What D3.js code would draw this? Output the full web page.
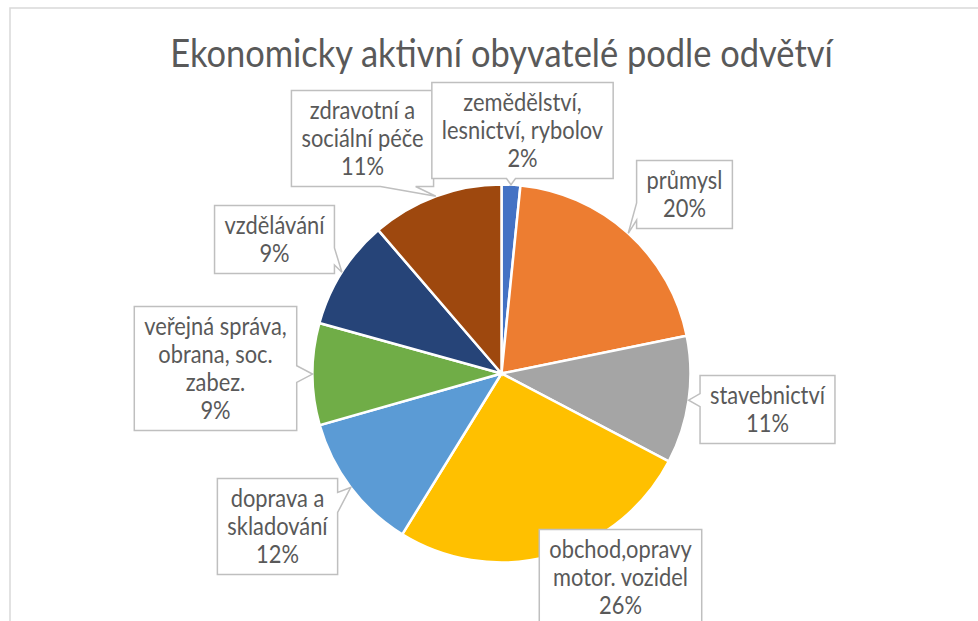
<!DOCTYPE html>
<html>
<head>
<meta charset="utf-8">
<script src="https://cdn.jsdelivr.net/npm/d3@7"></script>
<style>
  body { margin: 0; background: #fff; }
  text { font-family: Lato, "Open Sans", sans-serif; fill: #595959; }
</style>
</head>
<body>
<svg id="chart"></svg>
<script>
(function(){

// data
var title = "Ekonomicky aktivní obyvatelé podle odvětví";
var categories = [
  "zemědělství, lesnictví, rybolov", "průmysl", "stavebnictví",
  "obchod,opravy motor. vozidel", "doprava a skladování",
  "veřejná správa, obrana, soc. zabez.", "vzdělávání", "zdravotní a sociální péče"
];
// how Excel wrapped each label
var categoryLines = [
  ["zemědělství,", "lesnictví, rybolov"], ["průmysl"], ["stavebnictví"],
  ["obchod,opravy", "motor. vozidel"], ["doprava a", "skladování"],
  ["veřejná správa,", "obrana, soc.", "zabez."], ["vzdělávání"], ["zdravotní a", "sociální péče"]
];
var values = [1.6, 20.2, 10.9, 26.1, 11.8, 8.7, 9.4, 11.3];
var colors = ["#4472C4", "#ED7D31", "#A5A5A5", "#FFC000", "#5B9BD5", "#70AD47", "#264478", "#9E480E"];

// layout: label box centres, offset from the pie centre
var labelOffsets = [[21, -243], [183, -179], [266, 36], [119, 204], [-224, 153], [-286, -5], [-227, -134], [-139, -235]];

var W = 978, H = 621;
var cx = 501.5, cy = 373.5, radius = 189;
var lineH = 28, padX = 10, padV = 6;
var squeeze = 0.88; // horizontal squeeze so Lato sits closer to Calibri's narrow build

var svg = d3.select("#chart").attr("width", W).attr("height", H);

// chart area frame (runs off the right and bottom of the picture)
svg.append("rect")
  .attr("x", 10).attr("y", 8)
  .attr("width", 1000).attr("height", 700)
  .style("fill", "#fff")
  .style("stroke", "#d9d9d9")
  .style("stroke-width", 1.5);

// font size that gives a sample string the wanted width once squeezed
function fitSize(str, wanted, weight) {
  var t = svg.append("text").style("font-size", "40px").style("font-weight", weight).text(str);
  var len = t.node().getComputedTextLength() * squeeze;
  t.remove();
  return 40 * wanted / len;
}
var titleSize = fitSize(title, 663, 400);
var labelSize = fitSize("stavebnictví", 115, 400);

function squeezeAt(x) {
  return "translate(" + x + ",0) scale(" + squeeze + ",1) translate(" + (-x) + ",0)";
}

svg.append("text")
  .attr("x", cx).attr("y", 67)
  .attr("transform", squeezeAt(cx))
  .style("text-anchor", "middle")
  .style("font-size", titleSize + "px")
  .style("font-weight", 400)
  .text(title);

var pie = d3.pie().sort(null).value(function(d){ return d; });
var arcs = pie(values);
var total = d3.sum(values);
var pct = d3.format(".0%");

var arc = d3.arc().innerRadius(0).outerRadius(radius);
var edge = d3.arc().innerRadius(radius).outerRadius(radius);

var g = svg.append("g").attr("transform", "translate(" + cx + "," + cy + ")");

g.selectAll("path.slice")
  .data(arcs)
  .enter().append("path")
  .attr("class", "slice")
  .attr("d", arc)
  .style("fill", function(d, i){ return colors[i]; })
  .style("stroke", "#fff")
  .style("stroke-width", 2.5);

function clamp(v, lo, hi) { return Math.max(lo, Math.min(hi, v)); }

// rectangle with a wedge pointing at the slice
function calloutPath(b, tip) {
  var x0 = b.x0, y0 = b.y0, x1 = b.x1, y1 = b.y1;
  var inside = tip[0] >= x0 && tip[0] <= x1 && tip[1] >= y0 && tip[1] <= y1;
  var rect = "M" + x0 + "," + y0 + "H" + x1 + "V" + y1 + "H" + x0 + "Z";
  if (inside) return rect;
  var bw = x1 - x0, bh = y1 - y0;
  var mx = (x0 + x1) / 2, my = (y0 + y1) / 2;
  var vx = (tip[0] - mx) / (bw / 2), vy = (tip[1] - my) / (bh / 2);
  var p;
  if (Math.abs(vy) >= Math.abs(vx)) {
    var bx = clamp(tip[0], x0 + bw / 4, x1 - bw / 4);
    var ey = vy > 0 ? y1 : y0;
    var hw = Math.min(bw / 8, Math.hypot(tip[0] - bx, tip[1] - ey) * 0.4 + 2);
    if (vy > 0) {
      p = "M" + x0 + "," + y0 + "H" + x1 + "V" + y1 + "H" + (bx + hw) + "L" + tip[0] + "," + tip[1] + "L" + (bx - hw) + "," + y1 + "H" + x0 + "Z";
    } else {
      p = "M" + x0 + "," + y0 + "H" + (bx - hw) + "L" + tip[0] + "," + tip[1] + "L" + (bx + hw) + "," + y0 + "H" + x1 + "V" + y1 + "H" + x0 + "Z";
    }
  } else {
    var by = clamp(tip[1], y0 + bh / 4, y1 - bh / 4);
    var ex = vx > 0 ? x1 : x0;
    var hh = Math.min(bh / 8, Math.hypot(tip[0] - ex, tip[1] - by) * 0.4 + 2);
    if (vx > 0) {
      p = "M" + x0 + "," + y0 + "H" + x1 + "V" + (by - hh) + "L" + tip[0] + "," + tip[1] + "L" + x1 + "," + (by + hh) + "V" + y1 + "H" + x0 + "Z";
    } else {
      p = "M" + x0 + "," + y0 + "H" + x1 + "V" + y1 + "H" + x0 + "V" + (by + hh) + "L" + tip[0] + "," + tip[1] + "L" + x0 + "," + (by - hh) + "Z";
    }
  }
  return p;
}

var labels = arcs.map(function(d, i){
  return { arc: d, i: i, lines: categoryLines[i].concat([pct(d.value / total)]) };
});

// draw last first, so the first label sits on top
var lg = svg.append("g").attr("class", "labels");
labels.slice().reverse().forEach(function(l){
  var grp = lg.append("g");
  var bx = cx + labelOffsets[l.i][0], by = cy + labelOffsets[l.i][1];
  var txt = grp.append("text")
    .attr("transform", squeezeAt(bx))
    .style("font-size", labelSize + "px")
    .style("text-anchor", "middle");
  var n = l.lines.length;
  l.lines.forEach(function(s, k){
    txt.append("tspan")
      .attr("x", bx)
      .attr("y", by + (k - (n - 1) / 2) * lineH)
      .attr("dy", "0.35em")
      .text(s);
  });
  var tw = squeeze * d3.max(txt.selectAll("tspan").nodes(), function(n){ return n.getComputedTextLength(); });
  var bw = tw + 2 * padX, bh = n * lineH + 2 * padV;
  var box = { x0: bx - bw / 2, y0: by - bh / 2, x1: bx + bw / 2, y1: by + bh / 2 };
  var c = edge.centroid(l.arc);
  var tip = [cx + c[0], cy + c[1]];
  grp.insert("path", "text")
    .attr("d", calloutPath(box, tip))
    .style("fill", "#fff")
    .style("stroke", "#bfbfbf")
    .style("stroke-width", 1.5);
});

})();
</script>
</body>
</html>
